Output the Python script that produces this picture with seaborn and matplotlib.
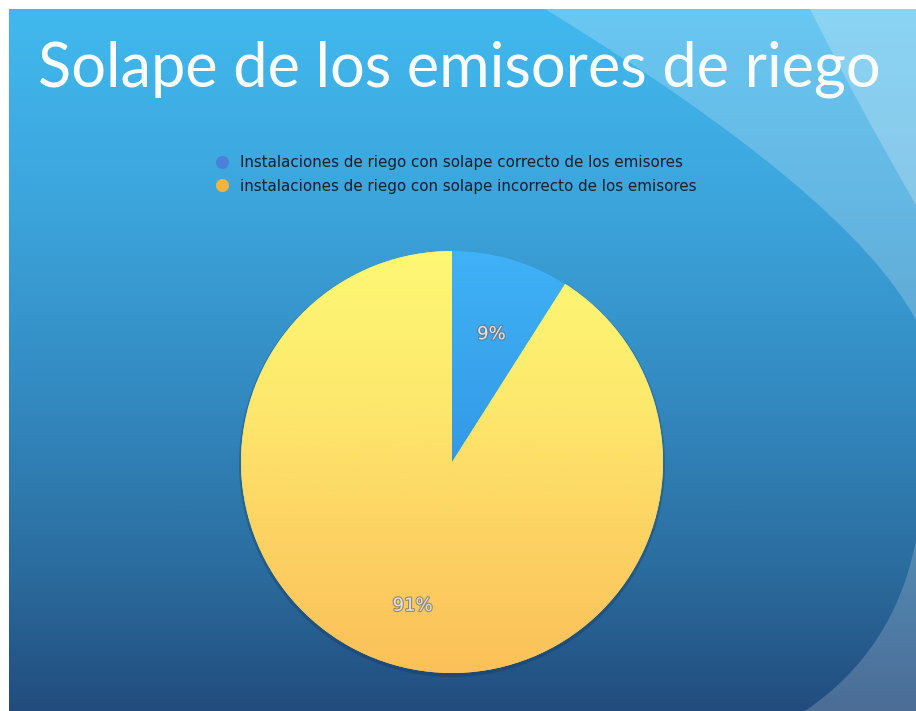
import numpy as np
import matplotlib
matplotlib.use("Agg")
import matplotlib.pyplot as plt
import seaborn as sns
from matplotlib.path import Path
from matplotlib.patches import PathPatch, Circle
from matplotlib.lines import Line2D
from matplotlib.colors import LinearSegmentedColormap
import matplotlib.patheffects as pe

# ---- data ----
title = "Solape de los emisores de riego"
categories = [
    "Instalaciones de riego con solape correcto de los emisores",
    "instalaciones de riego con solape incorrecto de los emisores",
]
values = [9, 91]
legend_colors = ["#4a80d8", "#f5b342"]
wedge_colors = ["#3aa5ee", "#fdd865"]

sns.set_theme(style="white")
plt.rcParams["font.family"] = ["DejaVu Sans"]

W, H = 916, 711
fig = plt.figure(figsize=(W / 100, H / 100), dpi=100)
fig.patch.set_facecolor("white")

# ---- slide background ----
bg = fig.add_axes([0, 0, 1, 1])
bg.set_xlim(0, W)
bg.set_ylim(H, 0)
bg.axis("off")

bg_cmap = LinearSegmentedColormap.from_list(
    "bg", [(0, "#41b9ee"), (0.3, "#3ba3da"), (0.55, "#338ac1"), (0.8, "#2b6c9e"), (1, "#224c7e")]
)
grad = np.linspace(0, 1, 256).reshape(-1, 1)
bg.imshow(grad, cmap=bg_cmap, aspect="auto", extent=(9, W, H, 9), interpolation="bicubic", zorder=0)

c3 = [Path.MOVETO, Path.CURVE3, Path.CURVE3, Path.LINETO, Path.CLOSEPOLY]
bg.add_patch(PathPatch(Path([(545, 9), (849, 195), (916, 320), (916, 9), (545, 9)], c3),
                       facecolor="white", alpha=0.21, edgecolor="none", zorder=1))
bg.add_patch(PathPatch(Path([(810, 9), (858, 105), (916, 205), (916, 9), (810, 9)], c3),
                       facecolor="white", alpha=0.23, edgecolor="none", zorder=1))
bg.add_patch(PathPatch(Path([(916, 540), (895, 650), (805, 711), (916, 711), (916, 540)], c3),
                       facecolor="#dde4ee", alpha=0.22, edgecolor="none", zorder=1))

# ---- title ----
t = bg.text(459, 87, title, color="white", fontsize=50, family=["Lato", "DejaVu Sans"],
            ha="center", va="baseline", zorder=3)
fig.canvas.draw()
w = t.get_window_extent().width
t.set_fontsize(50 * 842 / w)

# ---- legend ----
handles = [Line2D([], [], marker="o", linestyle="none", markersize=9.4,
                  markerfacecolor=c, markeredgecolor="none") for c in legend_colors]
leg = bg.legend(handles, categories, loc="upper left",
                bbox_to_anchor=(214 / W, 1 - 155 / H), bbox_transform=fig.transFigure,
                frameon=False, fontsize=10.9, handlelength=1.0, handletextpad=0.75,
                labelspacing=0.58, borderpad=0, borderaxespad=0)
for txt in leg.get_texts():
    txt.set_color("#15202e")

# ---- pie ----
cx, cy, R = 452, 462, 211
bg.add_patch(Circle((cx, cy + 2), R + 2, facecolor="#0b2a4a", alpha=0.25, edgecolor="none", zorder=2))
ax = fig.add_axes([(cx - R) / W, (H - cy - R) / H, 2 * R / W, 2 * R / H])
ax.patch.set_alpha(0)
wedges, texts, autotexts = ax.pie(
    values, colors=wedge_colors, startangle=90, counterclock=False,
    autopct="%1.0f%%", pctdistance=0.67, wedgeprops=dict(linewidth=0),
    textprops=dict(color="#e4e4e4", fontsize=13),
)
ax.set_xlim(-1, 1)
ax.set_ylim(-1, 1)
ax.axis("off")

blue_cmap = LinearSegmentedColormap.from_list("b", ["#40b2f6", "#3399e6", "#2b8bdc"])
yel_cmap = LinearSegmentedColormap.from_list(
    "y", [(0, "#fef875"), (0.35, "#fde96d"), (0.65, "#fdd464"), (1, "#fbc059")]
)
for wdg, cm in zip(wedges, [blue_cmap, yel_cmap]):
    im = ax.imshow(grad, cmap=cm, aspect="auto", extent=(-1, 1, -1, 1),
                   interpolation="bicubic", zorder=2)
    im.set_clip_path(wdg)

for at in autotexts:
    at.set_zorder(5)
    x0, y0 = at.get_position()
    at.set_position((x0, y0 - 0.038))
    at.set_path_effects([pe.Stroke(linewidth=1.6, foreground="#6a6a6a", alpha=0.7), pe.Normal()])

fig.savefig("out.png", dpi=100, facecolor="white")
